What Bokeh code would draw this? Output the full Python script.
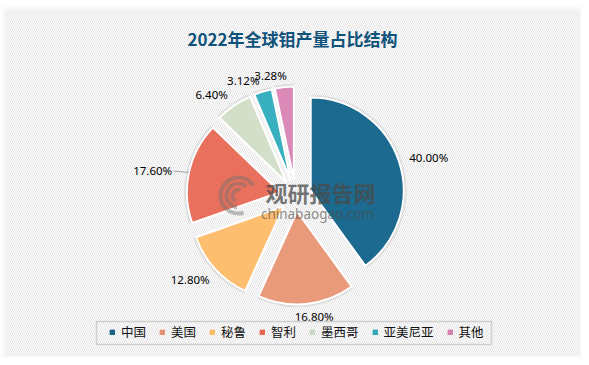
import math
from bokeh.plotting import figure
from bokeh.models import ColumnDataSource, Legend, LegendItem, Range1d
from bokeh.core.properties import value
from bokeh.embed import file_html
from bokeh.resources import INLINE

# ---------------- data ----------------
chart_title = "2022年全球钼产量占比结构"
categories = ["中国", "美国", "秘鲁", "智利", "墨西哥", "亚美尼亚", "其他"]
shares = [40.00, 16.80, 12.80, 17.60, 6.40, 3.12, 3.28]
colors = ["#1c6a8f", "#e89a7a", "#fdbe70", "#e9705c", "#d3dfc8", "#39b0c0", "#db8ab8"]
legend_colors = ["#1a5f85", "#e3906f", "#fbb865", "#e5654f", "#cbd8c0", "#2fa7b8", "#d580b0"]
watermark_cn = "观研报告网"
watermark_en = "chinabaogao.com"

# ---------------- layout constants ----------------
W, H = 581, 357
CX, CY = 295, H - 195    # pie centre (px, y up)
R = 93                   # radius
EXPLODE = 16             # explosion distance
label_nudge_deg = [2.3, -3.4, 4.5, -2.4, -5.8, -8.0, -6.7]
label_extra = [0, 0, 0, 6, 0, 0, 0]
LABEL_W = 37

p = figure(width=W, height=H, x_range=Range1d(0, W), y_range=Range1d(0, H),
           output_backend="svg", toolbar_location=None,
           x_axis_type=None, y_axis_type=None, min_border=0,
           outline_line_color=None, background_fill_color="white",
           border_fill_color="white")
p.grid.visible = False

# card shadow + card with diagonal stripes
cx0, cx1, cy0, cy1 = 8, 576, H - 352, H - 13
for k in range(1, 9):
    p.quad(left=[cx0 - k], right=[cx1 + k], bottom=[cy0 - k], top=[cy1 + k],
           fill_color="#000000", fill_alpha=0.009, line_color=None)
p.quad(left=[cx0], right=[cx1], bottom=[cy0], top=[cy1],
       fill_color="#ffffff", line_color=None,
       hatch_pattern="\\", hatch_color="#e4e4e4", hatch_scale=4, hatch_weight=1)

# title
p.text(x=[292], y=[H - 38], text=[chart_title], text_align="center",
       text_baseline="middle", text_font=value("Noto Sans CJK SC"),
       text_font_size="17px", text_font_style="bold", text_color="#0f527a")

# ---------------- pie ----------------
total = sum(shares)
xs, ys, starts, ends, mids = [], [], [], [], []
cum = 0.0
for v in shares:
    a0 = cum / total * 360.0
    cum += v
    a1 = cum / total * 360.0
    m = (a0 + a1) / 2
    mids.append(m)
    xs.append(CX + EXPLODE * math.sin(math.radians(m)))
    ys.append(CY + EXPLODE * math.cos(math.radians(m)))
    starts.append(math.radians(90 - a1))
    ends.append(math.radians(90 - a0))

src = ColumnDataSource(dict(x=xs, y=ys, start=starts, end=ends, color=colors,
                            lcolor=legend_colors, name=categories, share=shares))
p.wedge(x="x", y="y", radius=R + 3, start_angle="start", end_angle="end",
        fill_color="#000000", fill_alpha=0.06, line_color=None, source=src)
p.wedge(x="x", y="y", radius=R + 1.5, start_angle="start", end_angle="end",
        fill_color="#000000", fill_alpha=0.08, line_color=None, source=src)
p.wedge(x="x", y="y", radius=R, start_angle="start", end_angle="end",
        fill_color="color", line_color="white", line_width=2, source=src)
# zero-radius copy used only for legend swatches
legend_r = p.wedge(x="x", y="y", radius=0, start_angle="start", end_angle="end",
                   fill_color="lcolor", line_color="lcolor", line_width=1,
                   source=src)

# labels
lx, ly, lt = [], [], []
seg = dict(x0=[], y0=[], x1=[], y1=[])
for i, v in enumerate(shares):
    m = math.radians(mids[i])
    t = math.radians(mids[i] + label_nudge_deg[i])
    L = R + 12 + 0.5 * LABEL_W * abs(math.sin(m)) + label_extra[i]
    x = xs[i] + L * math.sin(t)
    y = ys[i] + L * math.cos(t)
    lx.append(x); ly.append(y); lt.append(f"{v:.2f}%")
    if label_extra[i] > 0:
        ax = xs[i] + R * math.sin(m)
        ay = ys[i] + R * math.cos(m)
        seg["x0"].append(ax); seg["y0"].append(ay)
        seg["x1"].append(x + LABEL_W / 2 + 2); seg["y1"].append(y - 1)
p.segment(x0="x0", y0="y0", x1="x1", y1="y1", source=ColumnDataSource(seg),
          line_color="#a6a6a6", line_width=1)
p.text(x=lx, y=ly, text=lt, text_align="center", text_baseline="middle",
       text_font=value("Noto Sans"), text_font_size="11.5px", text_color="#000000")

# watermark
p.arc(x=[238, 238, 238], y=[H - 195] * 3, radius=[18, 12, 6],
      start_angle=[0.6, 0.9, 1.2], end_angle=[5.0, 4.6, 4.3],
      line_color="#707070", line_alpha=0.45, line_width=4)
p.text(x=[320], y=[H - 191], text=[watermark_cn], text_align="center",
       text_baseline="middle", text_font=value("Noto Sans CJK SC"),
       text_font_size="22px", text_font_style="bold", text_color="#4a4a4a",
       text_alpha=0.75)
p.text(x=[317], y=[H - 213], text=[watermark_en], text_align="center",
       text_baseline="middle", text_font=value("Noto Sans"),
       text_font_size="13.5px", text_color="#4a4a4a", text_alpha=0.65)

# ---------------- legend ----------------
p.quad(left=[96], right=[491], bottom=[H - 344], top=[H - 321], fill_color=None,
       line_color="#cfcfcf", line_width=1.5)
items = [LegendItem(label=name, renderers=[legend_r], index=i)
         for i, name in enumerate(categories)]
legend = Legend(items=items, orientation="horizontal", location=(109, 16),
                glyph_width=6, glyph_height=6, label_standoff=6, spacing=13,
                padding=0, margin=0, border_line_color=None,
                background_fill_alpha=0, label_text_font_size="12.5px",
                label_text_font="Noto Sans CJK SC", label_text_color="#111111",
                label_height=13)
p.add_layout(legend)

open("out.html", "w").write(file_html(p, INLINE))
